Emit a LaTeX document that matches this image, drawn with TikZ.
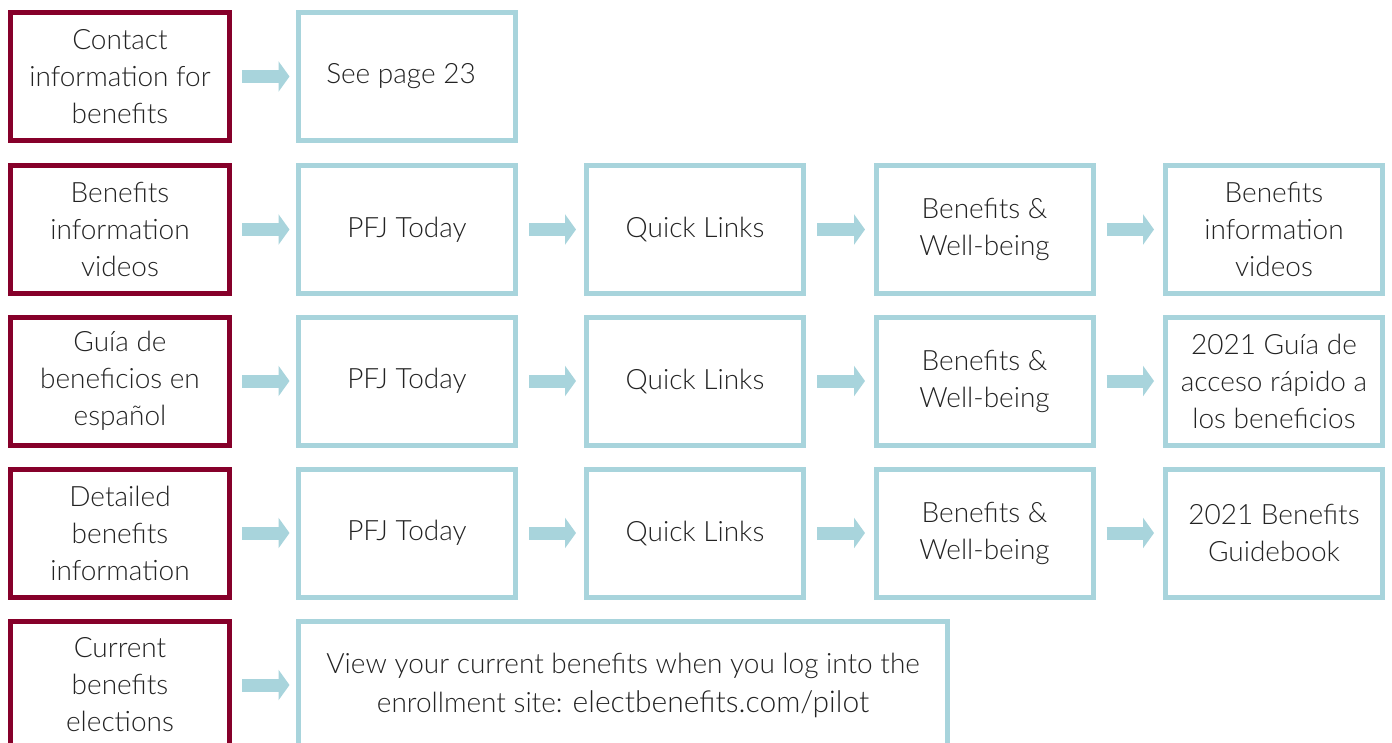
\documentclass[tikz,border=0pt]{standalone}
\usepackage{fontspec}
\IfFontExistsTF{Lato Light}{\setmainfont{Lato Light}}{\setmainfont{Lato}}
\usetikzlibrary{arrows.meta}
\definecolor{boxmaroon}{RGB}{134,0,42}
\definecolor{boxblue}{RGB}{168,212,220}
\definecolor{txtgray}{RGB}{35,35,35}
\begin{document}
\begin{tikzpicture}[x=1pt,y=-1pt,
  box/.style={draw, line width=5pt, minimum height=128pt, align=center,
    font=\fontsize{28}{37}\selectfont, text=txtgray, inner sep=0pt, outer sep=0pt},
  srcbox/.style={box, draw=boxmaroon, minimum width=219pt},
  dstbox/.style={box, draw=boxblue, minimum width=217pt},
  flow/.style={draw=boxblue, line width=13pt, -{Triangle[length=11pt,width=30pt]}}]
\useasboundingbox (0,0) rectangle (1392,742);
\fill[white] (0,0) rectangle (1392,742);
% row 1
\node[srcbox] (a1) at (120,76.5) {Contact\\information for\\benefits};
\node[dstbox] (b1) at (407,76.5) {\hspace*{-12pt}See page 23};
% row 2
\node[srcbox] (a2) at (120,229.5) {Benefits\\information\\videos};
\node[dstbox] (b2) at (407,229.5) {PFJ Today};
\node[dstbox] (c2) at (695,229.5) {Quick Links};
\node[dstbox] (d2) at (984.5,229.5) {Benefits \&\\Well-being};
\node[dstbox] (e2) at (1274,229.5) {Benefits\\information\\videos};
% row 3
\node[srcbox] (a3) at (120,381) {Guía de\\beneficios en\\español};
\node[dstbox] (b3) at (407,381) {PFJ Today};
\node[dstbox] (c3) at (695,381) {Quick Links};
\node[dstbox] (d3) at (984.5,381) {Benefits \&\\Well-being};
\node[dstbox] (e3) at (1274,381) {2021 Guía de\\acceso rápido a\\los beneficios};
% row 4
\node[srcbox] (a4) at (120,533) {Detailed\\benefits\\information};
\node[dstbox] (b4) at (407,533) {PFJ Today};
\node[dstbox] (c4) at (695,533) {Quick Links};
\node[dstbox] (d4) at (984.5,533) {Benefits \&\\Well-being};
\node[dstbox] (e4) at (1274,533) {2021 Benefits\\Guidebook};
% row 5
\node[srcbox] (a5) at (120,685) {Current\\benefits\\elections};
\node[dstbox, minimum width=649pt, font=\fontsize{28}{39}\selectfont] (b5) at (623,685)
  {View your current benefits when you log into the\\enrollment site: {\fontsize{30}{39}\selectfont electbenefits.com/pilot}};
% arrows
\foreach \r in {1,2,3,4,5} {
  \draw[flow] ([xshift=12.5pt]a\r.east) -- ([xshift=-9pt]b\r.west);
}
\foreach \r in {2,3,4} {
  \draw[flow] ([xshift=13.5pt]b\r.east) -- ([xshift=-10.5pt]c\r.west);
  \draw[flow] ([xshift=13.5pt]c\r.east) -- ([xshift=-11pt]d\r.west);
  \draw[flow] ([xshift=13.5pt]d\r.east) -- ([xshift=-11.5pt]e\r.west);
}
\end{tikzpicture}
\end{document}
